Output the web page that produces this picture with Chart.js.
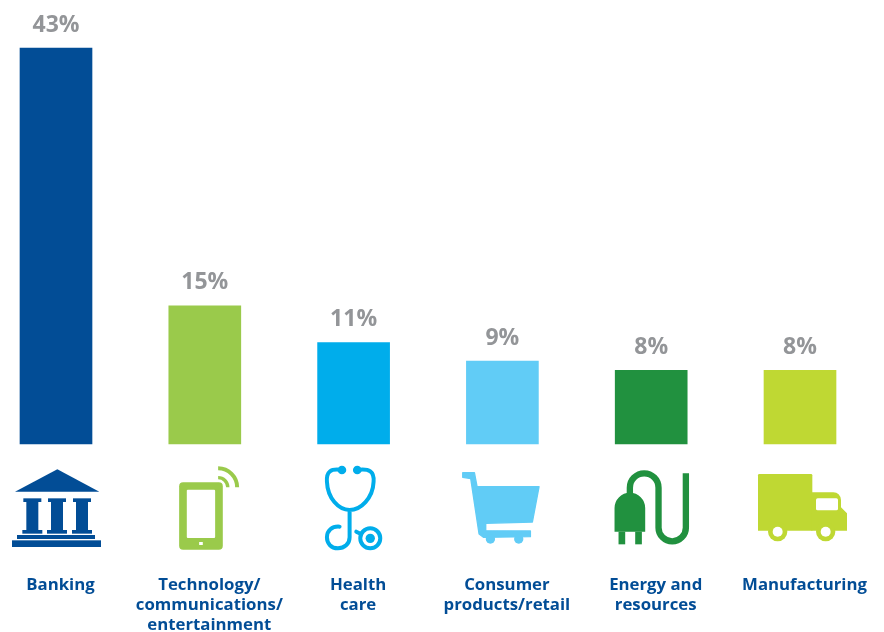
<!DOCTYPE html>
<html>
<head>
<meta charset="utf-8">
<title>Share by industry</title>
<script src="https://cdn.jsdelivr.net/npm/chart.js@4"></script>
<style>
    html, body { margin: 0; padding: 0; background: #fff; }
    canvas { display: block; }
</style>
</head>
<body>
<canvas id="industryChart" width="884" height="632"></canvas>
<script>
const categories = [
    ['Banking'],
    ['Technology/', 'communications/', 'entertainment'],
    ['Health', 'care'],
    ['Consumer', 'products/retail'],
    ['Energy and', 'resources'],
    ['Manufacturing']
];
const shares = [43, 15, 11, 9, 8, 8];
const barColors = ['#024d96', '#9aca4b', '#00adeb', '#61ccf6', '#21913f', '#bfd833'];
const labelColor = '#024d96';
const valueColor = '#939598';

// Each icon is sketched in a 3x grid: x from the bar centre, y from the top of the icon row
function roundedRect(ctx, x, y, w, h, r) {
    ctx.beginPath();
    ctx.roundRect(x, y, w, h, r);
    ctx.fill();
}

function drawBank(ctx) {
    ctx.beginPath();
    ctx.moveTo(-123, 125);
    ctx.lineTo(4, 58);
    ctx.lineTo(130, 125);
    ctx.closePath();
    ctx.fill();
    [-71, 3, 78].forEach(function(c) {
        ctx.fillRect(c - 27, 145, 54, 11);
        ctx.fillRect(c - 18, 156, 36, 84);
        ctx.fillRect(c - 30, 240, 60, 11);
    });
    ctx.fillRect(-117, 255, 234, 12);
    ctx.fillRect(-132, 271, 267, 20);
}

function drawPhone(ctx) {
    roundedRect(ctx, -77, 97, 131, 202, 12);
    ctx.fillStyle = '#fff';
    roundedRect(ctx, -54, 119, 85, 145, 3);
    ctx.fillRect(-17, 276, 11, 9);
    ctx.strokeStyle = barColors[1];
    ctx.lineWidth = 12;
    ctx.beginPath();
    ctx.arc(40, 112, 57, -Math.PI / 2, 0);
    ctx.stroke();
    ctx.lineWidth = 10;
    ctx.beginPath();
    ctx.arc(40, 112, 29, -Math.PI / 2, 0);
    ctx.stroke();
}

function drawStethoscope(ctx) {
    ctx.lineWidth = 12;
    ctx.lineCap = 'round';
    ctx.beginPath();
    ctx.arc(-35, 60, 13, 0, Math.PI * 2);
    ctx.arc(11, 60, 13, 0, Math.PI * 2);
    ctx.fill();
    ctx.beginPath();
    ctx.moveTo(-35, 60);
    ctx.bezierCurveTo(-70, 55, -82, 65, -80, 95);
    ctx.bezierCurveTo(-78, 145, -45, 180, -12, 180);
    ctx.bezierCurveTo(21, 180, 58, 145, 60, 95);
    ctx.bezierCurveTo(62, 65, 48, 55, 11, 60);
    ctx.moveTo(-12, 180);
    ctx.lineTo(-12, 262);
    ctx.bezierCurveTo(-12, 282, -28, 295, -47, 295);
    ctx.bezierCurveTo(-68, 295, -80, 280, -80, 262);
    ctx.bezierCurveTo(-80, 242, -65, 228, -42, 230);
    ctx.moveTo(8, 245);
    ctx.lineTo(22, 252);
    ctx.stroke();
    ctx.beginPath();
    ctx.arc(50, 265, 30, 0, Math.PI * 2);
    ctx.stroke();
    ctx.beginPath();
    ctx.arc(50, 265, 14, 0, Math.PI * 2);
    ctx.fill();
}

function drawCart(ctx) {
    ctx.lineJoin = 'round';
    ctx.lineWidth = 4;
    ctx.beginPath();
    ctx.moveTo(-119, 68);
    ctx.lineTo(-84, 68);
    ctx.lineTo(-76, 110);
    ctx.lineTo(110, 110);
    ctx.lineTo(90, 216);
    ctx.lineTo(-50, 220);
    ctx.lineTo(-50, 242);
    ctx.lineTo(84, 243);
    ctx.lineTo(84, 260);
    ctx.lineTo(-56, 262);
    ctx.lineTo(-70, 252);
    ctx.lineTo(-95, 86);
    ctx.lineTo(-119, 82);
    ctx.closePath();
    ctx.fill();
    ctx.stroke();
    [-36, 49].forEach(function(c) {
        ctx.beginPath();
        ctx.arc(c, 267, 14, 0, Math.PI * 2);
        ctx.fill();
    });
}

function drawPlug(ctx) {
    ctx.beginPath();
    ctx.moveTo(-110, 245);
    ctx.lineTo(-110, 170);
    ctx.arc(-64, 174, 46, Math.PI, 0);
    ctx.lineTo(-18, 245);
    ctx.closePath();
    ctx.fill();
    ctx.fillRect(-98, 245, 20, 38);
    ctx.fillRect(-48, 245, 20, 38);
    ctx.lineWidth = 19;
    ctx.beginPath();
    ctx.moveTo(-64, 135);
    ctx.lineTo(-64, 113);
    ctx.arc(-21, 113, 43, Math.PI, 0);
    ctx.lineTo(22, 233);
    ctx.arc(63, 233, 41, Math.PI, 0, true);
    ctx.lineTo(104, 70);
    ctx.stroke();
}

function drawTruck(ctx) {
    roundedRect(ctx, -126, 72, 163, 170, [4, 4, 0, 0]);
    ctx.beginPath();
    ctx.moveTo(34, 127);
    ctx.lineTo(100, 127);
    ctx.quadraticCurveTo(120, 127, 123, 150);
    ctx.lineTo(123, 172);
    ctx.lineTo(141, 190);
    ctx.lineTo(141, 242);
    ctx.lineTo(34, 242);
    ctx.closePath();
    ctx.fill();
    [-67, 77].forEach(function(c) {
        ctx.beginPath();
        ctx.arc(c, 245, 29, 0, Math.PI * 2);
        ctx.fill();
    });
    ctx.fillStyle = '#fff';
    roundedRect(ctx, 48, 145, 66, 36, 5);
    [-67, 77].forEach(function(c) {
        ctx.beginPath();
        ctx.arc(c, 245, 15, 0, Math.PI * 2);
        ctx.fill();
    });
}

const iconDrawers = [drawBank, drawPhone, drawStethoscope, drawCart, drawPlug, drawTruck];

// Percent labels above the bars and the icon row below them
const barDecorations = {
    id: 'barDecorations',
    afterDatasetsDraw(chart) {
        const ctx = chart.ctx;
        const meta = chart.getDatasetMeta(0);
        meta.data.forEach(function(bar, i) {
            ctx.save();
            ctx.fillStyle = valueColor;
            ctx.font = 'bold 23px "Open Sans"';
            ctx.textAlign = 'center';
            ctx.textBaseline = 'middle';
            ctx.fillText(shares[i] + '%', bar.x, bar.y - 23);
            ctx.restore();

            ctx.save();
            ctx.translate(bar.x, chart.scales.y.bottom + 6);
            ctx.scale(1 / 3, 1 / 3);
            ctx.fillStyle = barColors[i];
            ctx.strokeStyle = barColors[i];
            iconDrawers[i](ctx);
            ctx.restore();
        });
    }
};

const industryChart = new Chart(document.getElementById('industryChart').getContext('2d'), {
    type: 'bar',
    data: {
        labels: categories,
        datasets: [{
            data: shares,
            backgroundColor: barColors,
            borderWidth: 0,
            barThickness: 72,
            clip: false
        }]
    },
    options: {
        responsive: false,
        animation: false,
        layout: {
            padding: { left: 56, right: 84, top: 48, bottom: 0 }
        },
        plugins: {
            legend: { display: false },
            tooltip: { enabled: false }
        },
        scales: {
            x: {
                offset: false,
                grid: { display: false },
                border: { display: false },
                afterFit(scale) {
                    // the tall tick padding would otherwise eat into the plot width
                    scale.height = 188;
                    scale.paddingLeft = 0;
                    scale.paddingRight = 0;
                },
                ticks: {
                    color: labelColor,
                    font: { family: '"Open Sans"', size: 16.8, weight: 'bold', lineHeight: 1.19 },
                    padding: 123,
                    labelOffset: 4.5,
                    autoSkip: false,
                    maxRotation: 0,
                    minRotation: 0
                }
            },
            y: {
                display: false,
                min: 0,
                max: 43
            }
        }
    },
    plugins: [barDecorations]
});
</script>
</body>
</html>
